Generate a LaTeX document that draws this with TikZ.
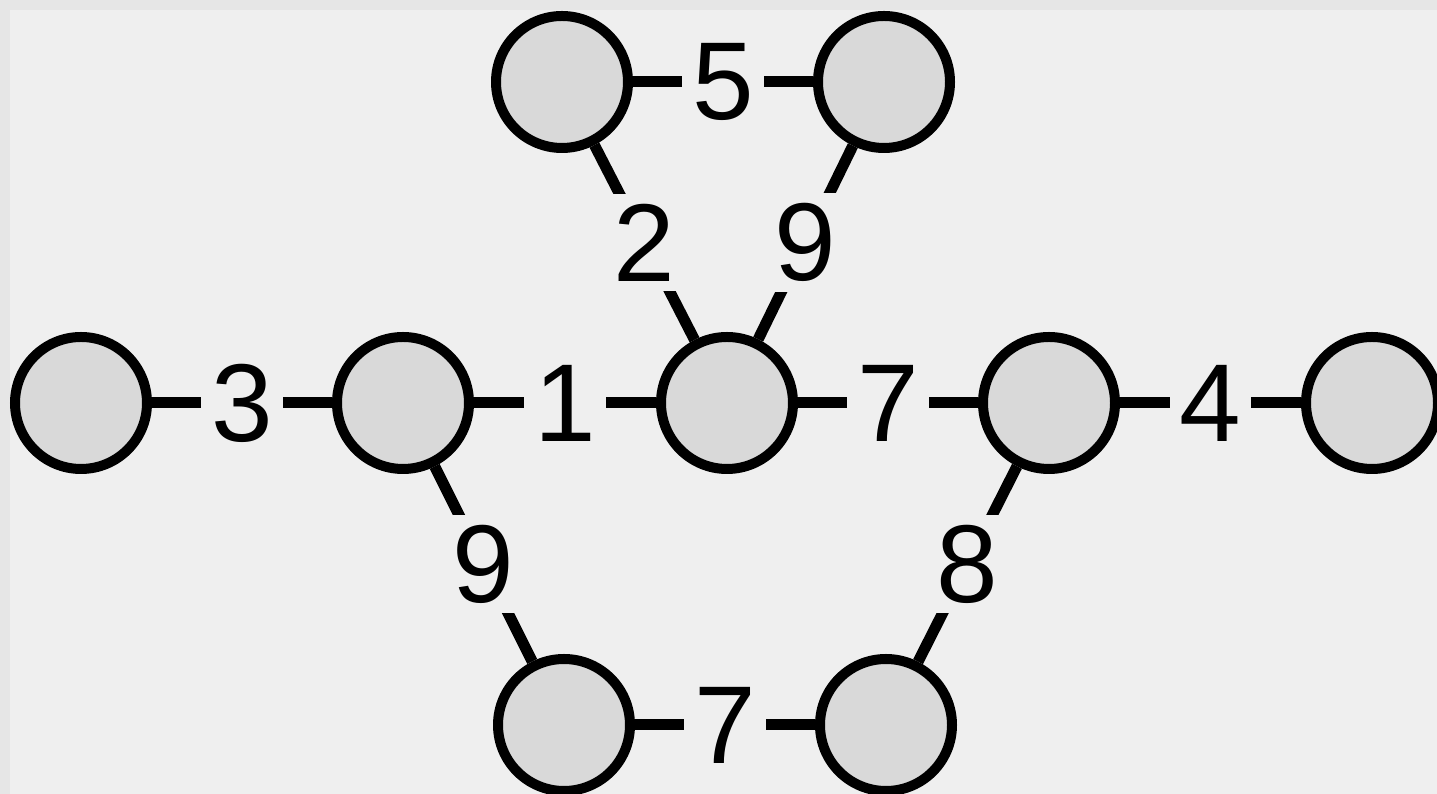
\documentclass[tikz,border=0pt]{standalone}
\usepackage{fontspec}
\setmainfont{Liberation Sans}
\definecolor{fundo}{HTML}{EFEFEF}
\definecolor{borda}{HTML}{E6E6E6}
\definecolor{vertice}{HTML}{D9D9D9}
\begin{document}
\begin{tikzpicture}[
  vert/.style={circle,draw=black,fill=vertice,line width=0.2cm,minimum size=2.64cm,inner sep=0pt},
  aresta/.style={line width=0.22cm},
  peso/.style={fill=fundo,inner sep=0.2cm,font=\fontsize{63}{70}\selectfont}
]
  \useasboundingbox (0,0) rectangle (28.74,15.88);
  \fill[borda] (0,0) rectangle (28.74,15.88);
  \fill[fundo] (0.2,0) rectangle (28.74,15.68);

  % vertices
  \node[vert] (sup1) at (11.24,14.24) {};
  \node[vert] (sup2) at (17.68,14.24) {};
  \node[vert] (m1) at (1.62,7.82) {};
  \node[vert] (m2) at (8.06,7.82) {};
  \node[vert] (m3) at (14.54,7.82) {};
  \node[vert] (m4) at (20.98,7.82) {};
  \node[vert] (m5) at (27.44,7.82) {};
  \node[vert] (inf1) at (11.28,1.38) {};
  \node[vert] (inf2) at (17.72,1.38) {};

  % arestas
  \draw[aresta] (sup1) -- node[peso]{5} (sup2);
  \draw[aresta] (sup1) -- node[peso]{2} (m3);
  \draw[aresta] (sup2) -- node[peso]{9} (m3);
  \draw[aresta] (m1) -- node[peso]{3} (m2);
  \draw[aresta] (m2) -- node[peso]{1} (m3);
  \draw[aresta] (m3) -- node[peso]{7} (m4);
  \draw[aresta] (m4) -- node[peso]{4} (m5);
  \draw[aresta] (m2) -- node[peso]{9} (inf1);
  \draw[aresta] (m4) -- node[peso]{8} (inf2);
  \draw[aresta] (inf1) -- node[peso]{7} (inf2);
\end{tikzpicture}
\end{document}
